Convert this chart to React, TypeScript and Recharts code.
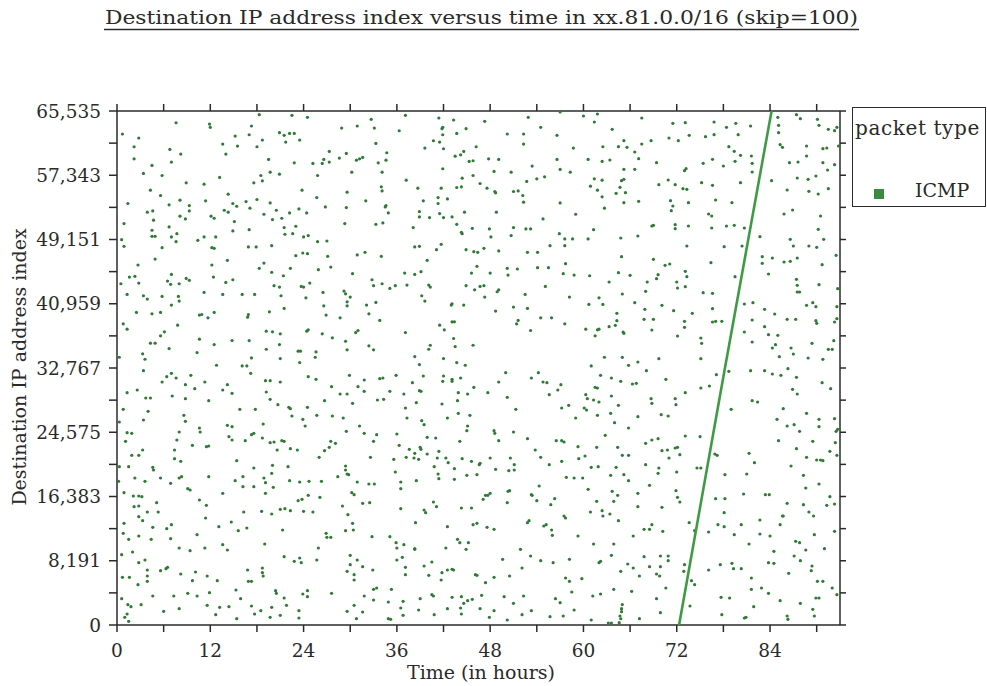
import { Scatter, ScatterChart, XAxis, YAxis } from 'recharts';

// hours, destination index, one block per region of the plot
const icmpEarlyHigh: [number, number][] = [
  [7.6, 64040], [11.9, 63870], [12.0, 63450], [17.3, 63620], [18.3, 65070], [22.5, 64980], [24.5, 64730], [30.9, 63620],
  [0.7, 62600], [2.8, 62090], [15.2, 62340], [17.0, 62510], [20.9, 62770], [21.5, 62430], [22.2, 62680], [22.8, 62680],
  [21.7, 61570], [23.5, 61830], [2.2, 60980], [6.8, 60640], [13.6, 61320], [15.5, 61060], [18.7, 61830], [28.9, 63360],
  [8.2, 60040], [14.0, 60040], [18.0, 60980], [2.2, 59440], [7.0, 59020], [4.5, 58590], [19.5, 59360], [22.8, 58930],
  [25.2, 58850], [26.4, 58850], [26.6, 59360], [27.3, 60380], [27.3, 59020], [28.6, 59530], [29.5, 60130], [30.8, 59270],
  [31.2, 59440], [3.4, 57570], [5.8, 57310], [13.2, 57060], [18.5, 57310], [19.7, 57740], [20.9, 57480], [25.8, 57310],
  [30.2, 57740], [8.9, 56380], [11.2, 56210], [17.6, 56380], [18.7, 56630], [4.3, 55440], [23.8, 55440], [5.6, 54760],
  [11.4, 54080], [14.3, 54930], [16.6, 53990], [18.0, 54250], [19.7, 53820], [25.7, 54500], [29.6, 55180], [1.4, 53740],
  [6.7, 53570], [8.1, 54160], [9.3, 53480], [14.9, 53740], [15.4, 53390], [26.8, 53310], [29.5, 53220], [3.9, 52630],
  [4.6, 52800], [9.3, 52800], [13.8, 52880], [14.3, 52630], [17.1, 53140], [18.9, 52370], [20.5, 52880], [22.2, 52540],
  [23.4, 53050], [24.4, 52540], [8.1, 52120], [8.8, 51780], [12.1, 52120], [12.5, 51860], [20.0, 51690], [21.2, 51860],
  [4.7, 51610], [0.9, 51180], [15.1, 51440], [21.5, 50670], [4.5, 50330], [6.7, 50750], [14.9, 50240], [17.0, 50410],
  [23.0, 50840], [29.3, 51180], [4.5, 49560], [4.9, 49560], [7.0, 49480], [7.7, 49900], [11.2, 49480], [10.4, 49050],
  [12.7, 49480], [21.6, 49820], [22.6, 49900], [24.6, 49650], [24.0, 49480], [25.8, 48880], [27.0, 48960], [0.6, 49130],
  [0.9, 48280], [5.8, 48110], [7.6, 48880], [12.2, 48110], [12.5, 48030], [14.2, 46490], [16.9, 48200], [17.9, 48200],
  [19.9, 48370], [23.0, 47090], [23.9, 47430], [24.5, 47350], [27.1, 47000], [30.9, 47180], [2.7, 45900], [4.9, 46660],
  [12.2, 45900], [18.3, 45470], [18.9, 46150], [22.3, 45470], [25.9, 45300], [27.5, 45640], [1.6, 44360], [2.3, 44450],
  [7.0, 44700], [8.9, 44190], [9.3, 43940], [12.4, 44360], [19.9, 44960], [21.4, 44530], [30.3, 44790], [0.5, 43510],
  [2.8, 43600], [6.5, 43850], [6.9, 43430], [8.0, 43510], [14.0, 43680], [14.9, 44020], [20.2, 43260], [20.9, 43090],
  [23.7, 43170], [24.0, 43090], [24.8, 43600], [26.5, 42400], [29.2, 42570], [29.4, 42230], [1.3, 42150], [3.4, 41980],
  [3.9, 41550], [5.8, 41890], [7.9, 41890], [11.2, 42400], [13.6, 42150], [16.1, 42150], [17.7, 42150], [21.1, 41980],
  [24.3, 41720], [30.0, 41810], [2.5, 39850], [4.5, 39680], [5.6, 39850], [7.0, 40790], [8.0, 41300], [10.6, 39510],
  [10.9, 39590], [11.7, 39170], [12.5, 39850], [16.8, 39250], [16.9, 39590], [19.6, 39930], [21.5, 40360], [26.6, 40700],
  [29.6, 40700], [29.6, 41210], [0.8, 38400], [7.8, 38230], [28.7, 39170], [26.9, 39510], [1.3, 37720], [6.1, 37380],
  [5.6, 36870], [19.2, 37460], [20.0, 37380], [21.0, 37120], [24.4, 37460], [24.6, 37630], [26.4, 37120], [27.7, 36610],
  [31.0, 37550], [30.7, 37290], [4.3, 35930], [4.9, 35930], [10.6, 36440], [12.5, 35760], [14.8, 36270], [17.0, 36270],
  [19.2, 35160], [20.9, 35760], [23.3, 34910], [23.6, 34910], [25.6, 34820], [29.4, 36180], [29.6, 35080], [0.3, 34140],
  [3.3, 34570], [3.6, 33880], [6.7, 35250], [10.3, 34740], [17.3, 34050], [16.1, 33030], [16.7, 33030], [23.5, 33460],
  [12.8, 33120], [25.5, 34140], [21.0, 33970],
];

const icmpMidHigh: [number, number][] = [
  [32.7, 64470], [37.1, 64980], [41.4, 64640], [41.8, 63280], [41.9, 63450], [41.9, 62510], [43.7, 62680], [43.3, 64390],
  [44.9, 63280], [47.3, 64220], [52.9, 64730], [57.0, 65410], [60.0, 64900], [61.4, 64130], [61.8, 65150], [33.1, 63360],
  [36.3, 63020], [50.2, 62600], [52.3, 62600], [54.5, 63450], [56.6, 62430], [33.3, 61400], [39.6, 60810], [40.7, 61740],
  [41.5, 61570], [42.0, 60720], [46.2, 60980], [52.3, 61320], [58.7, 60810], [62.5, 60980], [34.7, 60210], [34.6, 59270],
  [33.6, 58930], [43.5, 59780], [44.2, 59950], [44.6, 60380], [45.3, 59100], [45.8, 59190], [47.8, 59440], [49.1, 59360],
  [56.6, 59360], [60.6, 59360], [62.4, 59100], [41.9, 58170], [48.5, 57830], [50.7, 57740], [53.4, 58510], [57.0, 58080],
  [58.3, 57740], [31.6, 59610], [34.1, 57740], [37.2, 56720], [44.4, 56970], [45.8, 57310], [55.0, 57140], [54.0, 56890],
  [52.7, 56550], [61.4, 56890], [62.4, 56720], [38.7, 55700], [41.7, 55700], [43.7, 55780], [44.3, 55870], [46.7, 56290],
  [47.6, 55700], [48.6, 55270], [48.7, 55100], [51.0, 55270], [51.6, 55350], [52.2, 54760], [52.3, 53910], [60.9, 55950],
  [61.8, 55440], [62.4, 54590], [34.0, 55870], [34.1, 55350], [62.7, 53140], [32.0, 54080], [34.5, 53310], [34.6, 53480],
  [34.9, 52540], [39.4, 54080], [41.3, 54500], [41.3, 53740], [42.5, 54330], [57.0, 53820], [59.0, 52370], [38.9, 52710],
  [38.9, 52030], [41.5, 52460], [42.0, 51950], [40.2, 51950], [44.7, 52630], [48.8, 52630], [54.8, 51780], [43.1, 52030],
  [33.3, 51090], [34.2, 51260], [38.1, 50670], [43.7, 51090], [44.3, 50070], [44.4, 49900], [45.7, 50580], [47.9, 50500],
  [48.1, 49480], [50.7, 49650], [51.0, 50670], [52.6, 50500], [53.2, 50500], [56.9, 49900], [57.6, 49220], [58.6, 49220],
  [60.6, 49220], [61.3, 50410], [31.9, 47520], [34.0, 47000], [38.3, 48200], [38.9, 48280], [39.9, 46490], [41.1, 47860],
  [41.7, 48540], [44.9, 47860], [45.9, 47600], [46.4, 47520], [47.2, 48030], [49.1, 47690], [52.8, 47520], [54.1, 47520],
  [55.7, 48370], [57.6, 48370], [57.7, 46070], [37.0, 44870], [38.3, 44700], [39.1, 45050], [45.6, 44870], [46.3, 45730],
  [48.0, 44870], [50.2, 45470], [50.3, 44620], [51.5, 45390], [54.1, 45560], [55.5, 45560], [57.4, 44790], [58.8, 44620],
  [60.8, 44530], [32.8, 44020], [33.0, 43260], [34.1, 43510], [35.1, 42910], [35.8, 43260], [37.3, 43340], [40.1, 43340],
  [40.3, 43090], [44.9, 43260], [46.0, 42740], [46.7, 43170], [47.2, 43260], [48.9, 42490], [49.1, 42740], [55.1, 43170],
  [39.2, 41980], [39.6, 41300], [43.0, 40790], [43.1, 40960], [44.6, 40790], [47.3, 41810], [52.5, 42150], [58.2, 41810],
  [60.7, 40870], [62.0, 41720], [62.5, 40870], [32.1, 40790], [33.3, 41130], [32.4, 39680], [33.8, 38830], [48.7, 40020],
  [51.0, 40530], [52.8, 40360], [54.5, 39170], [55.9, 39170], [51.6, 38830], [51.4, 38400], [57.6, 38400], [41.5, 38230],
  [42.1, 37630], [43.1, 38660], [43.4, 38660], [37.1, 37290], [53.2, 37550], [60.3, 37720], [62.0, 37720], [61.8, 37630],
  [61.5, 36870], [40.3, 35670], [40.1, 35160], [43.3, 36530], [43.5, 35500], [45.8, 35670], [32.4, 35590], [33.0, 35080],
  [38.3, 34220], [38.9, 33200], [42.0, 33970], [43.7, 33460], [44.8, 33120], [61.0, 33030], [62.7, 34140],
];

const icmpLateHigh: [number, number][] = [
  [63.7, 63200], [67.5, 64640], [71.5, 63960], [73.1, 64050], [73.6, 62430], [75.7, 62260], [76.8, 64130], [78.4, 63450],
  [79.6, 63960], [79.9, 62520], [81.5, 63620], [85.0, 64730], [85.1, 63710], [85.1, 62770], [87.4, 65070], [87.9, 64560],
  [90.1, 64470], [90.3, 63710], [91.5, 63200], [92.3, 63030], [92.6, 63450], [64.5, 60990], [65.2, 61750], [65.6, 60900],
  [66.6, 60310], [67.5, 61330], [68.7, 61750], [69.4, 58950], [71.0, 62090], [72.2, 61750], [76.8, 62520], [78.7, 60990],
  [79.4, 60390], [79.5, 59120], [81.6, 59800], [81.7, 58860], [81.7, 57760], [85.3, 61240], [85.6, 60900], [88.7, 61070],
  [88.7, 59800], [90.8, 60730], [91.3, 60820], [92.8, 61070], [63.4, 59290], [67.1, 59460], [66.6, 58100], [65.2, 58100],
  [73.0, 57930], [73.2, 58180], [75.4, 58860], [76.6, 59370], [78.0, 58520], [80.2, 59880], [84.2, 56650], [86.5, 58950],
  [87.6, 59030], [87.5, 56990], [88.9, 56820], [89.9, 57250], [90.8, 58950], [92.3, 58690], [91.4, 58010], [64.7, 55800],
  [65.2, 56820], [64.9, 56650], [65.4, 55120], [69.7, 56140], [70.9, 56740], [71.8, 56140], [72.8, 55630], [73.3, 55550],
  [75.2, 56400], [76.6, 56060], [80.2, 56400], [86.2, 55460], [89.0, 55290], [90.2, 54950], [91.5, 55630], [64.2, 55040],
  [65.2, 53850], [67.1, 54020], [71.2, 54100], [71.5, 53420], [71.3, 52830], [73.5, 53850], [77.0, 54190], [79.1, 53850],
  [86.9, 52910], [90.5, 52150], [68.8, 50870], [69.0, 50960], [71.8, 51040], [71.8, 50530], [73.5, 50870], [76.1, 52400],
  [76.5, 52150], [76.5, 50620], [78.4, 50870], [79.4, 50960], [80.7, 50620], [85.8, 52400], [90.2, 50450], [64.8, 49340],
  [67.0, 49600], [82.7, 49510], [86.6, 49170], [87.0, 48320], [89.0, 48320], [90.0, 48150], [90.9, 49170], [92.5, 47130],
  [64.9, 46960], [69.0, 46620], [70.5, 45860], [71.1, 46030], [73.3, 48320], [76.4, 46200], [78.1, 48240], [80.4, 48320],
  [83.0, 46960], [83.0, 46110], [84.3, 46790], [85.8, 46280], [86.6, 46370], [87.5, 46790], [90.7, 45940], [64.5, 44920],
  [66.0, 44580], [68.2, 43730], [69.4, 44160], [69.6, 44670], [72.0, 43730], [72.1, 42970], [73.1, 45090], [73.3, 44410],
  [73.1, 43140], [79.5, 44410], [83.8, 44750], [87.4, 44070], [87.5, 43310], [90.3, 43390], [92.7, 42880], [65.0, 42200],
  [68.0, 42540], [75.4, 42370], [76.6, 42290], [87.5, 42460], [87.8, 42460], [63.3, 43730], [66.6, 41100], [70.1, 40760],
  [71.6, 40080], [74.0, 39740], [76.6, 40330], [80.7, 40930], [81.8, 41100], [83.3, 40250], [84.6, 39650], [88.7, 40760],
  [89.5, 41100], [89.9, 40590], [92.6, 40590], [64.3, 39740], [64.3, 38800], [63.3, 38040], [64.1, 38210], [65.1, 37360],
  [65.2, 37190], [67.9, 40250], [67.8, 38970], [69.0, 38970], [68.8, 37610], [73.0, 38720], [73.0, 37950], [76.6, 38630],
  [77.0, 38720], [77.8, 38720], [80.7, 37360], [81.7, 38890], [83.3, 38040], [83.8, 37020], [85.0, 36930], [86.2, 38970],
  [87.3, 38970], [89.9, 38800], [90.0, 38460], [92.3, 38630], [92.6, 39060], [72.1, 36850], [75.1, 36590], [75.2, 35910],
  [81.7, 36080], [84.3, 35320], [84.7, 35740], [86.7, 35320], [89.4, 35910], [91.5, 35150], [92.0, 35150], [65.0, 34130],
  [67.0, 33530], [69.7, 33960], [75.1, 33960], [65.8, 33110], [85.2, 34210], [87.0, 34550], [88.9, 34040], [90.8, 33870],
  [92.2, 36250],
];

const icmpEarlyLow: [number, number][] = [
  [3.4, 32430], [5.8, 30980], [6.4, 31660], [7.0, 32090], [7.6, 31490], [9.5, 31830], [8.8, 30640], [10.0, 30130],
  [11.3, 30980], [13.6, 29960], [14.2, 30640], [14.8, 29540], [17.2, 32090], [19.1, 31150], [19.7, 31150], [21.0, 30980],
  [24.6, 31660], [25.6, 31320], [27.6, 30390], [28.7, 29450], [29.6, 29450], [29.9, 31830], [31.0, 30390], [1.3, 29620],
  [2.6, 29960], [3.7, 28940], [4.3, 28940], [7.1, 29200], [8.8, 28860], [11.8, 28600], [19.2, 29710], [19.7, 28770],
  [20.7, 28090], [22.1, 27750], [22.3, 27580], [26.7, 28600], [30.3, 28260], [0.8, 27500], [4.0, 27240], [3.4, 26140],
  [8.6, 26730], [8.8, 25970], [15.8, 27500], [17.8, 27500], [22.5, 26650], [23.9, 26220], [24.5, 27750], [25.7, 26730],
  [27.7, 26650], [29.1, 26390], [0.3, 25880], [1.3, 24520], [1.9, 24440], [10.6, 25120], [10.7, 24610], [14.2, 25460],
  [14.8, 25290], [17.3, 24270], [17.6, 24440], [18.8, 25630], [24.2, 25370], [29.5, 24690], [31.2, 25370], [8.0, 24610],
  [7.7, 23590], [9.7, 22910], [11.8, 22820], [11.5, 22740], [14.4, 24010], [14.8, 23590], [16.5, 23500], [18.7, 23840],
  [19.7, 23250], [20.2, 23330], [21.2, 23500], [21.5, 23420], [22.3, 22480], [23.2, 22310], [20.6, 22310], [27.5, 23420],
  [28.1, 23160], [27.3, 22650], [1.1, 23420], [1.9, 21630], [2.8, 21630], [3.3, 22310], [7.4, 22310], [7.4, 21210],
  [0.3, 20190], [1.5, 20190], [4.6, 20100], [8.2, 20870], [15.4, 20950], [17.6, 20020], [20.0, 20360], [22.0, 20190],
  [26.0, 21380], [26.7, 22230], [29.4, 20270], [0.2, 18320], [2.3, 18740], [3.6, 18320], [4.7, 19760], [5.6, 18740],
  [6.9, 18060], [8.3, 18910], [8.0, 18740], [11.8, 18910], [15.2, 18400], [16.2, 18910], [16.2, 17640], [17.6, 17640],
  [18.9, 18740], [19.1, 18150], [19.9, 19340], [20.1, 17550], [22.2, 18400], [23.5, 18230], [24.7, 18320], [26.3, 18320],
  [28.4, 18910], [29.6, 19250], [29.4, 19760], [29.8, 19170], [30.9, 18230], [0.9, 16870], [2.1, 16450], [2.8, 16450],
  [3.2, 16360], [2.2, 15090], [2.8, 15170], [5.1, 15600], [9.1, 17380], [9.4, 17210], [10.6, 15940], [11.5, 15260],
  [13.6, 16790], [19.1, 16790], [23.3, 15850], [23.8, 16020], [24.6, 16530], [26.1, 16280], [29.0, 15170], [30.2, 16870],
  [30.5, 16620], [0.9, 12960], [2.8, 13810], [3.3, 13300], [3.9, 14410], [5.3, 14410], [4.6, 12450], [7.0, 12790],
  [11.4, 13640], [14.7, 13130], [16.3, 14410], [18.6, 14490], [19.9, 14150], [21.0, 14750], [21.6, 14830], [22.3, 14580],
  [24.0, 14490], [25.2, 14410], [29.7, 14070], [30.3, 12960], [0.8, 11690], [1.5, 10920], [2.8, 11350], [4.4, 10920],
  [6.4, 12280], [6.9, 11010], [10.3, 11520], [13.1, 12540], [15.6, 12030], [16.7, 12370], [21.3, 12110], [26.9, 11690],
  [27.0, 11180], [27.5, 11180], [29.4, 12030], [30.4, 12110], [2.0, 9310], [0.6, 8970], [8.0, 9820], [9.4, 9480],
  [11.3, 9820], [13.6, 10240], [14.2, 9560], [19.0, 10330], [21.5, 8710], [22.8, 8120], [23.5, 8540], [23.7, 7950],
  [25.7, 8290], [25.9, 9820], [30.0, 7690], [30.9, 8290], [30.0, 8880], [2.8, 7950], [3.6, 8290], [3.9, 7010],
  [5.6, 6930], [6.3, 7180], [6.5, 7350], [8.2, 6500], [10.1, 6760], [0.7, 6080], [1.6, 6080], [3.9, 6250],
  [3.9, 5570], [2.7, 5140], [9.7, 5650], [11.6, 6250], [12.9, 5650], [16.8, 7010], [16.9, 5570], [17.3, 5570],
  [18.7, 7270], [18.7, 6670], [18.8, 6250], [20.5, 4040], [20.4, 4380], [21.5, 3440], [23.9, 3950], [24.5, 3610],
  [24.5, 4380], [27.6, 4040], [29.6, 6840], [30.5, 6420], [30.5, 5740], [4.6, 3700], [7.3, 3700], [9.1, 4040],
  [10.3, 3700], [15.3, 4460], [15.9, 3360], [11.9, 4120], [0.6, 3360], [1.4, 2590], [1.8, 2340], [3.1, 2590],
  [8.0, 2080], [11.6, 2510], [13.2, 2250], [14.4, 2340], [17.3, 2420], [19.9, 2250], [18.5, 1830], [21.8, 2510],
  [23.4, 1830], [1.3, 1400], [1.0, 980], [1.5, 470], [6.0, 1740], [12.7, 1320], [15.4, 810], [17.7, 1400],
  [19.7, 980], [21.0, 1230], [23.4, 890], [29.6, 1740], [30.5, 2510], [30.8, 810],
];

const icmpMidLow: [number, number][] = [
  [31.8, 31240], [33.8, 31410], [34.2, 31490], [35.9, 31830], [38.0, 30900], [39.4, 31750], [41.9, 31070], [43.1, 31320],
  [43.1, 31070], [42.0, 31750], [44.2, 31490], [50.0, 32170], [49.1, 30980], [53.3, 31490], [54.2, 32170], [54.8, 30980],
  [55.3, 30900], [57.1, 30640], [62.2, 31830], [31.8, 29790], [33.5, 28690], [34.3, 28770], [35.1, 29790], [36.9, 29450],
  [38.9, 29880], [39.1, 29790], [38.5, 28350], [41.8, 28180], [43.9, 29620], [45.1, 29450], [43.8, 28600], [45.9, 30300],
  [47.7, 29620], [50.2, 29030], [55.6, 29370], [56.7, 29960], [61.5, 30300], [61.8, 30220], [60.3, 29370], [60.5, 28860],
  [62.0, 28430], [61.3, 28690], [37.1, 27670], [37.3, 26390], [39.2, 26050], [39.5, 25540], [42.5, 26390], [43.9, 26990],
  [45.4, 26730], [45.1, 25370], [51.3, 27500], [57.2, 27670], [58.1, 28010], [59.0, 26390], [60.1, 27670], [60.4, 27410],
  [61.8, 26730], [31.8, 24440], [33.0, 23420], [33.4, 24270], [36.0, 24350], [36.3, 22910], [37.6, 22400], [38.3, 21890],
  [39.0, 22650], [39.9, 23930], [39.1, 22400], [41.4, 22140], [41.0, 23840], [44.1, 23420], [45.0, 24780], [48.5, 24780],
  [48.6, 24440], [49.1, 23500], [51.0, 24610], [52.8, 23760], [53.8, 22310], [54.5, 21380], [56.5, 23500], [57.2, 23500],
  [57.5, 23330], [59.3, 22740], [59.4, 21210], [60.2, 21550], [61.7, 22650], [62.8, 24180], [32.6, 21380], [35.6, 21120],
  [37.2, 21380], [38.2, 21290], [38.8, 21120], [39.9, 21800], [40.8, 20190], [41.2, 21290], [42.3, 21290], [42.6, 20700],
  [43.4, 19930], [44.4, 21210], [45.6, 20870], [46.6, 20440], [46.7, 20610], [48.0, 21290], [50.6, 21290], [51.1, 20440],
  [51.1, 19760], [48.7, 19850], [50.4, 19680], [55.6, 20440], [57.2, 20870], [61.0, 20100], [61.9, 20190], [32.4, 17980],
  [33.1, 17980], [35.8, 19510], [36.5, 18230], [36.5, 17380], [38.5, 18400], [41.3, 19250], [41.4, 18660], [43.4, 18570],
  [45.0, 19080], [46.3, 19170], [47.4, 16530], [47.7, 16530], [48.0, 16790], [47.1, 16020], [50.3, 17040], [50.5, 17130],
  [50.2, 15600], [54.3, 17720], [53.3, 16620], [53.4, 16530], [54.0, 15850], [55.8, 15340], [56.3, 16110], [57.8, 18830],
  [58.8, 18740], [59.9, 18740], [60.6, 17300], [61.7, 15770], [62.4, 14580], [31.6, 15510], [32.5, 15600], [36.5, 14830],
  [39.5, 14660], [39.7, 14320], [40.7, 15680], [41.1, 15090], [42.5, 12540], [44.3, 14920], [45.6, 14920], [45.8, 12790],
  [46.3, 12960], [47.6, 12450], [48.5, 12200], [38.4, 13050], [53.0, 13300], [52.8, 13050], [54.9, 12620], [55.2, 12790],
  [55.9, 12110], [56.0, 11430], [57.5, 13900], [57.7, 13640], [59.3, 11350], [60.9, 14410], [62.5, 13900], [32.8, 11260],
  [35.1, 11260], [35.9, 10500], [36.0, 9820], [36.9, 10240], [38.3, 9730], [38.3, 9650], [42.3, 9820], [43.8, 10920],
  [44.1, 10500], [45.2, 10500], [44.9, 9650], [49.6, 8370], [51.9, 9650], [53.2, 8800], [54.5, 8200], [56.1, 7950],
  [58.2, 8370], [61.3, 10330], [62.2, 8120], [62.0, 7950], [31.6, 7440], [32.9, 7010], [36.0, 8290], [36.7, 8630],
  [37.1, 7350], [37.1, 6420], [39.5, 7520], [40.1, 6330], [40.5, 8030], [41.7, 5740], [41.8, 6670], [42.5, 7010],
  [43.1, 7100], [43.3, 7010], [46.1, 6420], [46.3, 6330], [47.4, 5400], [48.5, 6080], [50.5, 6250], [52.1, 7270],
  [57.7, 5990], [58.2, 5570], [59.8, 5910], [33.0, 4550], [33.4, 4720], [35.3, 4550], [31.8, 3700], [33.0, 3190],
  [34.9, 2930], [36.8, 3020], [39.0, 3360], [40.5, 3870], [40.7, 3700], [43.1, 3530], [44.3, 3610], [44.6, 2760],
  [45.1, 3100], [45.7, 3270], [46.9, 3780], [49.8, 3610], [51.0, 2760], [52.3, 3700], [56.4, 3360], [57.0, 2850],
  [58.5, 4210], [61.2, 3700], [62.2, 3950], [34.9, 810], [35.2, 720], [36.5, 2170], [36.8, 1230], [38.8, 1910],
  [40.8, 1320], [42.5, 2080], [44.2, 2170], [44.3, 1400], [46.7, 2080], [47.9, 980], [48.5, 1830], [50.2, 640],
  [52.1, 1320], [53.3, 1830], [55.7, 1060], [57.4, 1150], [58.8, 1910], [61.0, 640], [31.6, 1660],
];

const icmpLateLow: [number, number][] = [
  [63.6, 31490], [64.8, 31070], [66.3, 30730], [66.8, 30810], [68.1, 32430], [70.6, 31320], [75.1, 30220], [76.2, 30470],
  [77.1, 31920], [78.7, 32340], [81.5, 32430], [83.3, 32430], [84.3, 32000], [85.4, 31830], [86.3, 32680], [86.9, 30050],
  [87.5, 29450], [87.4, 31580], [90.7, 30900], [91.8, 30130], [63.6, 29200], [64.5, 28010], [63.5, 26990], [64.0, 25800],
  [65.8, 25120], [67.0, 26560], [68.7, 28860], [68.8, 28260], [70.0, 26820], [70.9, 26650], [71.8, 28860], [71.9, 28090],
  [73.1, 29620], [79.0, 27500], [81.7, 28600], [82.4, 28430], [85.7, 27580], [84.9, 26220], [86.2, 25370], [87.1, 25540],
  [88.7, 26990], [90.3, 26220], [90.3, 25290], [92.3, 26310], [92.5, 24690], [92.7, 24950], [64.4, 22650], [65.0, 21630],
  [65.8, 21630], [68.0, 23160], [68.8, 23590], [69.6, 23760], [70.1, 22230], [70.8, 22310], [71.0, 21290], [71.8, 22570],
  [72.1, 22650], [72.4, 21720], [73.1, 24100], [75.0, 24010], [75.1, 20020], [76.9, 21800], [77.2, 21630], [78.2, 19170],
  [81.3, 21890], [82.0, 20700], [81.0, 19250], [85.1, 23500], [86.7, 20270], [87.4, 22480], [87.8, 24690], [88.3, 19080],
  [88.7, 21380], [89.5, 23420], [90.0, 21040], [90.5, 21040], [90.8, 20950], [91.7, 22140], [92.4, 23250], [92.6, 21630],
  [63.5, 19080], [64.2, 20100], [65.2, 19170], [65.8, 18400], [68.0, 20440], [69.6, 19340], [69.7, 20020], [72.0, 19510],
  [74.6, 20020], [63.7, 17040], [64.4, 16530], [63.9, 15770], [67.0, 16790], [68.5, 17810], [67.0, 15090], [67.8, 12200],
  [68.5, 12200], [68.8, 12790], [70.1, 15000], [71.9, 17130], [72.1, 16280], [72.4, 15680], [73.6, 13050], [77.0, 16110],
  [78.1, 14320], [78.2, 16110], [80.6, 16700], [83.4, 16620], [83.9, 16620], [86.2, 15510], [85.6, 13900], [85.7, 13900],
  [88.3, 15340], [89.0, 14410], [89.6, 13900], [88.6, 17470], [90.3, 17980], [91.3, 15260], [91.7, 16360], [92.3, 15430],
  [63.4, 14150], [64.5, 13300], [66.4, 11350], [70.2, 11940], [74.3, 12030], [76.1, 11860], [77.3, 12790], [78.1, 12540],
  [79.4, 11520], [80.3, 12790], [81.3, 10330], [82.7, 13390], [82.7, 11600], [84.0, 11350], [84.5, 9390], [85.3, 12790],
  [87.3, 10670], [87.8, 10500], [88.6, 9560], [89.7, 11520], [92.3, 11940], [91.0, 9730], [63.9, 10330], [63.6, 8880],
  [64.8, 6840], [65.7, 7780], [66.4, 7270], [67.2, 6250], [67.8, 8710], [68.5, 7440], [69.9, 8800], [69.9, 7440],
  [70.9, 8200], [70.9, 8800], [69.4, 6500], [69.8, 6250], [72.9, 6840], [73.0, 7690], [76.1, 7010], [77.6, 7690],
  [79.1, 7860], [79.3, 7180], [80.3, 7180], [81.6, 5990], [83.8, 7950], [84.5, 7860], [87.1, 8800], [87.9, 8200],
  [89.4, 7520], [89.3, 6930], [90.1, 5570], [90.8, 5570], [89.9, 3440], [90.3, 3440], [63.9, 4550], [66.2, 4290],
  [69.4, 3360], [70.6, 4720], [74.3, 5140], [73.9, 5650], [77.7, 3530], [78.8, 3440], [81.6, 4550], [81.9, 2340],
  [82.9, 4720], [83.8, 4040], [85.3, 3100], [86.4, 6590], [87.9, 2760], [89.5, 2000], [89.7, 1150], [92.0, 4720],
  [92.6, 3870], [64.9, 2080], [64.7, 1150], [67.2, 810], [69.9, 1570], [73.7, 2420], [77.8, 1320], [80.7, 890],
  [80.9, 980], [86.2, 1150], [86.3, 720], [63.2, 250], [63.6, 250], [64.6, 300], [64.8, 800], [64.9, 1700], [65.0, 2600],
];

// the sweep across the whole /16 near the end of day three
const sweepPoints: [number, number][] = [[72.3, 0], [78.2, 32768], [84.2, 65535]];

const hourTicks = [0, 6, 12, 18, 24, 30, 36, 42, 48, 54, 60, 66, 72, 78, 84, 90];
const indexTicks = [
  0, 4095, 8191, 12287, 16383, 20479, 24575, 28671, 32767, 36863, 40959, 45055, 49151, 53247, 57343, 61439, 65535,
];
const indexLabels = [0, 8191, 16383, 24575, 32767, 40959, 49151, 57343, 65535];

const toRows = (pts: [number, number][]) => pts.map(([t, ip]) => ({ t, ip }));

const icmpData = toRows([
  ...icmpEarlyHigh,
  ...icmpMidHigh,
  ...icmpLateHigh,
  ...icmpEarlyLow,
  ...icmpMidLow,
  ...icmpLateLow,
]);
const sweepData = toRows(sweepPoints);

const FONT = "'DejaVu Serif', 'Liberation Serif', serif";
const INK = '#2a2a2a';
const DOT = '#2f7a36';

const Dot = (props: any) => <circle cx={props.cx} cy={props.cy} r={1.6} fill={DOT} />;

const tickStyle = { fontFamily: FONT, fontSize: 18.5, fill: INK };

export default function App() {
  return (
    <div style={{ position: 'absolute', left: 0, top: 0, width: 987, height: 686, background: '#fff' }}>
      <ScatterChart
        width={987}
        height={686}
        margin={{ top: 101, right: 137, bottom: 21, left: 7 }}
      >
        <XAxis
          xAxisId="bottom"
          dataKey="t"
          type="number"
          domain={[0, 93]}
          ticks={hourTicks}
          interval={0}
          tickFormatter={(v: number) => (v % 12 === 0 ? String(v) : '')}
          height={40}
          tickSize={7}
          tickMargin={12}
          stroke={INK}
          strokeWidth={1.5}
          tick={tickStyle}
        />
        <XAxis
          xAxisId="top"
          orientation="top"
          dataKey="t"
          type="number"
          domain={[0, 93]}
          ticks={hourTicks}
          interval={0}
          tickFormatter={() => ''}
          height={10}
          tickSize={7}
          stroke={INK}
          strokeWidth={1.5}
        />
        <YAxis
          yAxisId="left"
          dataKey="ip"
          type="number"
          domain={[0, 65535]}
          ticks={indexTicks}
          interval={0}
          tickFormatter={(v: number) => (indexLabels.includes(v) ? v.toLocaleString('en-US') : '')}
          width={110}
          tickSize={8}
          tickMargin={8}
          stroke={INK}
          strokeWidth={1.5}
          tick={tickStyle}
        />
        <YAxis
          yAxisId="right"
          orientation="right"
          dataKey="ip"
          type="number"
          domain={[0, 65535]}
          ticks={indexTicks}
          interval={0}
          tickFormatter={() => ''}
          width={10}
          tickSize={6}
          stroke={INK}
          strokeWidth={1.5}
        />
        <Scatter
          xAxisId="bottom"
          yAxisId="left"
          data={icmpData}
          shape={Dot}
          isAnimationActive={false}
        />
        <Scatter
          xAxisId="top"
          yAxisId="right"
          data={sweepData}
          line={{ stroke: '#3f9a45', strokeWidth: 2.6 }}
          shape={() => <g />}
          isAnimationActive={false}
        />
      </ScatterChart>

      <svg
        width={987}
        height={686}
        style={{ position: 'absolute', left: 0, top: 0, pointerEvents: 'none' }}
      >
        <text
          x={105}
          y={24}
          textLength={753}
          lengthAdjust="spacingAndGlyphs"
          fontFamily={FONT}
          fontSize={19}
          fill={INK}
        >
          Destination IP address index versus time in xx.81.0.0/16 (skip=100)
        </text>
        <line x1={104} x2={859} y1={29.5} y2={29.5} stroke={INK} strokeWidth={1.5} />
        <text
          x={481}
          y={679}
          textAnchor="middle"
          fontFamily={FONT}
          fontSize={19}
          fill={INK}
        >
          Time (in hours)
        </text>
        <text
          transform="translate(26 367) rotate(-90)"
          textAnchor="middle"
          fontFamily={FONT}
          fontSize={19}
          fill={INK}
        >
          Destination IP address index
        </text>
      </svg>

      <div
        style={{
          position: 'absolute',
          left: 852,
          top: 107,
          width: 134,
          height: 100,
          border: `1.5px solid ${INK}`,
          fontFamily: FONT,
          color: INK,
          boxSizing: 'border-box',
        }}
      >
        <div style={{ position: 'absolute', left: 2, top: 8, fontSize: 20, letterSpacing: 0.6, whiteSpace: 'nowrap' }}>
          packet type
        </div>
        <div
          style={{ position: 'absolute', left: 21, top: 81, width: 10, height: 10, background: '#3a8a3f' }}
        />
        <div style={{ position: 'absolute', left: 62, top: 71, fontSize: 19 }}>ICMP</div>
      </div>
    </div>
  );
}
